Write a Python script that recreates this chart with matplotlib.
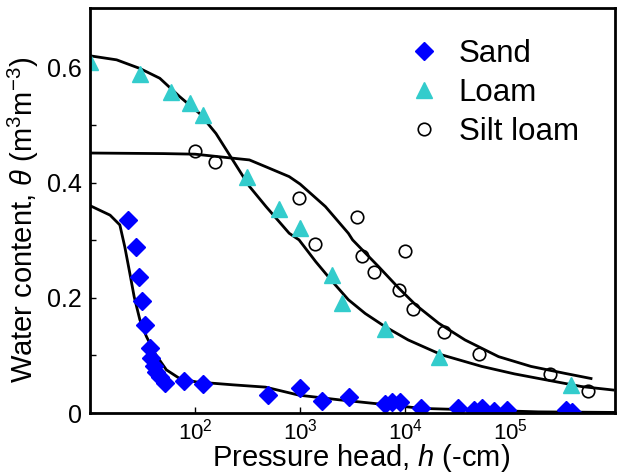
import matplotlib
matplotlib.use("Agg")
import matplotlib.pyplot as plt

plt.rcParams['font.family'] = ['Liberation Sans', 'DejaVu Sans']
plt.rcParams['mathtext.fontset'] = 'custom'
plt.rcParams['mathtext.rm'] = 'Liberation Sans'
plt.rcParams['mathtext.it'] = 'Liberation Sans:italic'

# measured points
sand_h = [23, 27.3, 29.1, 30.9, 33.4, 37.1, 38.4, 40.4, 42.9, 46.1, 51.3, 78, 120,
          500, 1000, 1610, 2910, 6480, 7500, 9000, 14200, 31700, 45600, 53800,
          69500, 93000, 340000, 385000]
sand_t = [0.336, 0.288, 0.237, 0.195, 0.153, 0.113, 0.095, 0.081, 0.072, 0.063, 0.053,
          0.056, 0.050, 0.032, 0.044, 0.021, 0.028, 0.016, 0.020, 0.020, 0.008, 0.008,
          0.006, 0.008, 0.004, 0.006, 0.005, 0.002]

loam_h = [10, 30, 59, 90, 120, 310, 624, 1000, 2020, 2510, 6480, 21000, 380000]
loam_t = [0.61, 0.59, 0.558, 0.539, 0.518, 0.411, 0.354, 0.321, 0.240, 0.192, 0.146,
          0.098, 0.048]

silt_h = [99, 155, 980, 1380, 3490, 3850, 5040, 8810, 9890, 12000, 23500, 50000,
          238000, 550000]
silt_t = [0.456, 0.436, 0.373, 0.294, 0.340, 0.273, 0.246, 0.214, 0.282, 0.180, 0.140,
          0.103, 0.068, 0.039]

# fitted curves
sand_fit_h = [10, 10.4, 15.5, 19.2, 21.4, 23.9, 26.3, 29.8, 34.4, 41.3, 53.3, 71.3, 103,
              229, 468, 977, 2340, 14500, 186000, 1000000]
sand_fit_t = [0.36, 0.359, 0.344, 0.327, 0.289, 0.243, 0.202, 0.162, 0.133, 0.104, 0.075,
              0.060, 0.054, 0.049, 0.045, 0.031, 0.023, 0.008, 0.002, 0.001]

loam_fit_h = [10, 17.9, 29.8, 46.1, 71.3, 110, 158, 228, 329, 473, 787, 977, 1410, 2040,
              2880, 4170, 6460, 10700, 22400, 53700, 110000, 229000, 479000, 955000]
loam_fit_t = [0.621, 0.614, 0.599, 0.582, 0.550, 0.521, 0.486, 0.440, 0.394, 0.359,
              0.3125, 0.301, 0.263, 0.228, 0.197, 0.173, 0.150, 0.127, 0.101, 0.081,
              0.068, 0.057, 0.046, 0.040]

silt_fit_h = [10, 50, 100, 229, 329, 473, 787, 1000, 1740, 2880, 3160, 5620, 8710, 12600,
              20900, 37200, 77600, 158000, 331000, 589000]
silt_fit_t = [0.452, 0.451, 0.450, 0.443, 0.440, 0.428, 0.411, 0.398, 0.359, 0.3125,
              0.301, 0.254, 0.217, 0.188, 0.156, 0.127, 0.098, 0.081, 0.069, 0.060]

xticks = [1e2, 1e3, 1e4, 1e5]
yticks = [0, 0.2, 0.4, 0.6]
yticklabels = ['0', '0.2', '0.4', '0.6']

fig = plt.figure(figsize=(6.17, 4.75), dpi=100)
ax = fig.add_axes([0.146, 0.1305, 0.851, 0.8525])

ax.plot(sand_fit_h, sand_fit_t, color='black', lw=2)
ax.plot(loam_fit_h, loam_fit_t, color='black', lw=2)
ax.plot(silt_fit_h, silt_fit_t, color='black', lw=2)

ax.plot(sand_h, sand_t, 'D', color='#0000ff', ms=9, mec='#0000ff', ls='none', label='Sand')
ax.plot(loam_h, loam_t, '^', color='#33cccc', ms=11, mec='#33cccc', ls='none', label='Loam')
ax.plot(silt_h, silt_t, 'o', mfc='none', mec='black', mew=1.2, ms=9, ls='none',
        label='Silt loam')

ax.set_xscale('log')
ax.set_xlim(10, 1e6)
ax.set_ylim(0, 0.704)
ax.set_xticks(xticks)
ax.xaxis.set_minor_locator(matplotlib.ticker.NullLocator())
ax.set_yticks(yticks)
ax.set_yticklabels(yticklabels)
ax.set_yticks([0.1, 0.3, 0.5], minor=True)
ax.tick_params(axis='both', which='both', direction='in', length=4, width=1)
ax.tick_params(axis='y', labelsize=18, pad=6)
ax.tick_params(axis='x', labelsize=16, pad=4)
for s in ax.spines.values():
    s.set_linewidth(2)

ax.set_xlabel(r'Pressure head, $h$ (-cm)', fontsize=21)
ax.xaxis.set_label_coords(0.516, -0.072)
ax.xaxis.label.set_va('top')
ax.set_ylabel(r'Water content, $\theta$ (m$^3$m$^{-3}$)', fontsize=21)
ax.yaxis.set_label_coords(-0.094, 0.478)

ax.legend(loc='upper left', bbox_to_anchor=(0.553, 0.985), frameon=False, fontsize=22.5,
          handletextpad=0.5, labelspacing=0.28, handlelength=1.2, borderpad=0.3)

fig.savefig('out.png', dpi=100)
